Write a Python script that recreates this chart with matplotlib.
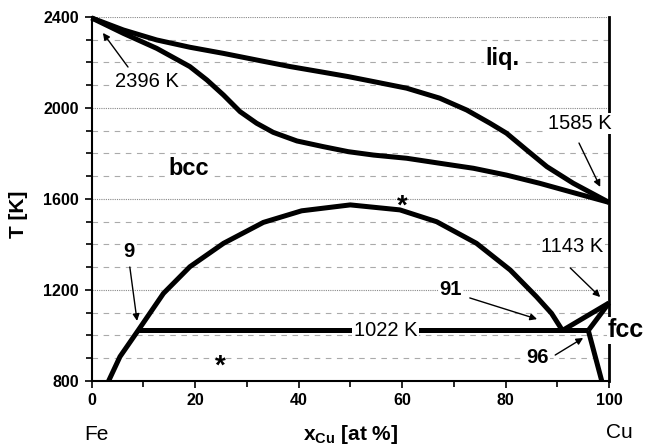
import matplotlib
matplotlib.use("Agg")
import matplotlib.pyplot as plt
from matplotlib.ticker import MultipleLocator

plt.rcParams['font.family'] = ['Liberation Sans', 'DejaVu Sans']
plt.rcParams['mathtext.fontset'] = 'custom'
plt.rcParams['mathtext.rm'] = 'Liberation Sans'
plt.rcParams['mathtext.bf'] = 'Liberation Sans:bold'

# liquidus / solidus
liq_x = [0, 6.15, 12.6, 19.0, 25.5, 31.9, 38.4, 44.8, 49.6, 54.5, 60.9, 67.3, 72.5,
         77.0, 80.2, 84.1, 88.0, 93.1, 100]
liq_T = [2396, 2343, 2299, 2267, 2240, 2211, 2182, 2157, 2138, 2116, 2087, 2043, 1991,
         1933, 1889, 1815, 1742, 1669, 1585]
sol_x = [0, 6.15, 12.6, 19.0, 22.3, 25.5, 28.7, 31.9, 35.1, 39.7, 44.8, 49.6, 54.5,
         60.9, 67.3, 73.8, 80.2, 86.6, 93.1, 100]
sol_T = [2396, 2328, 2262, 2182, 2123, 2057, 1984, 1933, 1893, 1855, 1830, 1808, 1793,
         1779, 1757, 1735, 1705, 1669, 1628, 1585]

# miscibility gap (bcc)
gap_x = [3.3, 5.5, 9.0, 13.9, 19.0, 25.5, 33.2, 40.6, 50, 59.6, 66.7, 74.4, 80.9, 86,
         88.9, 91]
gap_T = [800, 907, 1022, 1185, 1302, 1405, 1497, 1548, 1574, 1552, 1500, 1405, 1288, 1170,
         1097, 1022]

# eutectoid + fcc boundaries
eut_x = [9, 96]
eut_T = [1022, 1022]
fcc1_x = [91, 100]
fcc1_T = [1022, 1143]
fcc2_x = [96, 100]
fcc2_T = [1022, 1143]
low_x = [96, 98.6]
low_T = [1022, 800]

fig = plt.figure(figsize=(6.45, 4.47), dpi=100)
ax = fig.add_axes([0.1419, 0.1477, 0.8023, 0.8143])

ax.set_xlim(0, 100)
ax.set_ylim(800, 2400)
ax.xaxis.set_major_locator(MultipleLocator(20))
ax.xaxis.set_minor_locator(MultipleLocator(10))
ax.yaxis.set_major_locator(MultipleLocator(400))
ax.yaxis.set_minor_locator(MultipleLocator(100))

ax.yaxis.grid(True, which='major', color='#888888', lw=0.8, linestyle=(0, (1, 1)))
ax.yaxis.grid(True, which='minor', color='#aaaaaa', lw=0.8, linestyle=(0, (5, 5)))
ax.set_axisbelow(True)

ax.spines['top'].set_visible(False)
ax.spines['left'].set_linewidth(1.5)
ax.spines['bottom'].set_linewidth(1.5)
ax.spines['right'].set_linewidth(2)
ax.tick_params(which='both', direction='out', width=1.2, labelsize=11.5)
ax.tick_params(which='major', length=5, pad=4)
ax.tick_params(which='minor', length=4)
ax.tick_params(axis='y', which='both', right=False)
for lab in ax.get_xticklabels() + ax.get_yticklabels():
    lab.set_fontweight('bold')

lw = 3.6
for xs, ts in [(liq_x, liq_T), (sol_x, sol_T), (gap_x, gap_T), (eut_x, eut_T),
               (fcc1_x, fcc1_T), (fcc2_x, fcc2_T), (low_x, low_T)]:
    ax.plot(xs, ts, color='k', lw=lw, solid_capstyle='butt', solid_joinstyle='round', clip_on=False)

box = dict(facecolor='white', edgecolor='none', pad=1)
arr = dict(arrowstyle='-|>', color='k', lw=1, mutation_scale=10, shrinkA=0, shrinkB=0)

ax.text(10.8, 2116, '2396 K', fontsize=14.5, ha='center', va='center', bbox=box)
ax.annotate('', xy=(2.2, 2330), xytext=(7.05, 2180), arrowprops=arr)
ax.text(79.5, 2218, 'liq.', fontsize=17, fontweight='bold', ha='center', va='center', bbox=box)
ax.text(18.8, 1736, 'bcc', fontsize=17, fontweight='bold', ha='center', va='center', bbox=box)
ax.text(94.3, 1932, '1585 K', fontsize=14.5, ha='center', va='center', bbox=box)
ax.annotate('', xy=(98.3, 1653), xytext=(94.2, 1846), arrowprops=arr)
ax.text(60.0, 1567, '*', fontsize=20, fontweight='bold', ha='center', va='center')
ax.text(24.8, 865, '*', fontsize=20, fontweight='bold', ha='center', va='center')
ax.text(7.25, 1369, '9', fontsize=14.5, fontweight='bold', ha='center', va='center')
ax.annotate('', xy=(8.8, 1064), xytext=(7.4, 1301), arrowprops=arr)
ax.text(92.9, 1391, '1143 K', fontsize=14.5, ha='center', va='center', bbox=box)
ax.annotate('', xy=(98.3, 1169), xytext=(92.5, 1297), arrowprops=arr)
ax.text(69.3, 1200, '91', fontsize=14.5, fontweight='bold', ha='center', va='center', bbox=box)
ax.annotate('', xy=(86.1, 1072), xytext=(73.1, 1165), arrowprops=arr)
ax.text(56.8, 1022, '1022 K', fontsize=14.5, ha='center', va='center', bbox=box)
ax.text(86.2, 903, '96', fontsize=14.5, fontweight='bold', ha='center', va='center', bbox=box)
ax.annotate('', xy=(95, 989), xytext=(89.6, 914), arrowprops=arr)
ax.text(103.3, 1024, 'fcc', fontsize=18, fontweight='bold', ha='center', va='center', bbox=box)

ax.set_xlabel(r'$\mathbf{x_{Cu}}$ [at %]', fontsize=15, fontweight='bold')
ax.xaxis.set_label_coords(0.5, -0.115)
ax.set_ylabel('T [K]', fontsize=15, fontweight='bold')
ax.yaxis.set_label_coords(-0.123, 0.459)

fig.text(96.5 / 645, 1 - 435 / 447, 'Fe', fontsize=15, ha='center', va='center')
fig.text(619 / 645, 1 - 433 / 447, 'Cu', fontsize=15, ha='center', va='center')

fig.savefig('out.png', dpi=100)
